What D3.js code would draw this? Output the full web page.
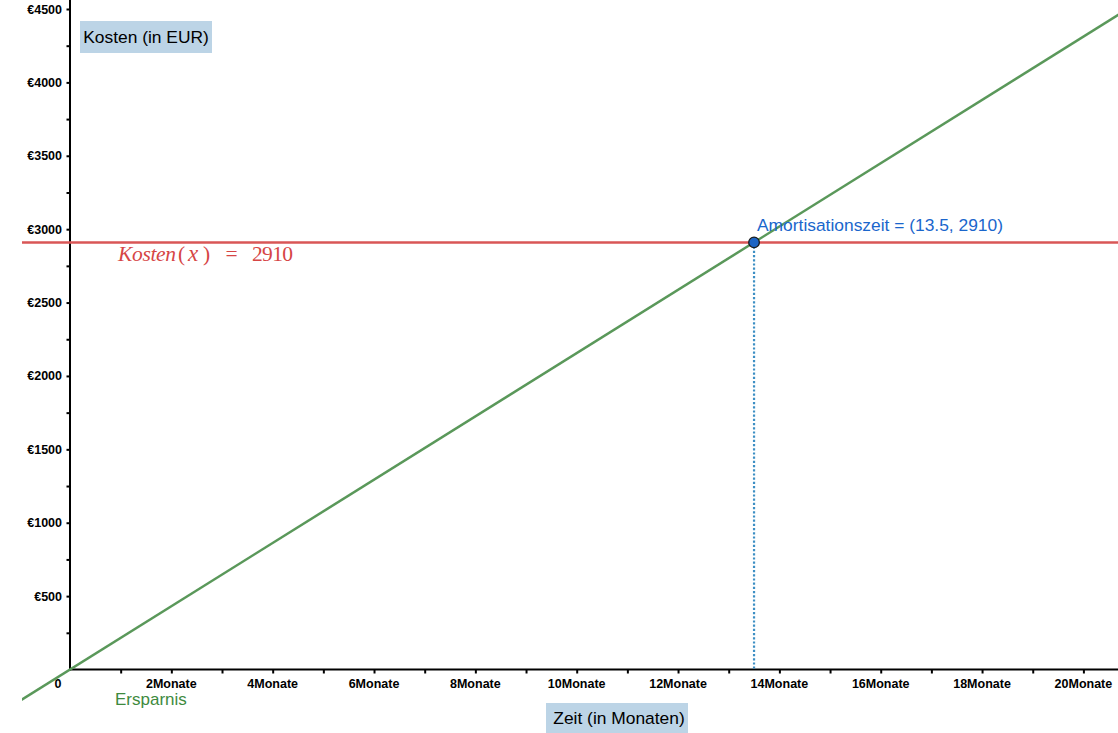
<!DOCTYPE html>
<html><head><meta charset="utf-8">
<script src="https://cdn.jsdelivr.net/npm/d3@7"></script>
<style>
html,body{margin:0;padding:0;background:#fff;}
svg{display:block;}
</style></head>
<body>
<svg id="chart" width="1118" height="733"></svg>
<script>
// ---- data ----
const xTickMonths = [2,4,6,8,10,12,14,16,18,20];
const xTickLabels = ["2Monate","4Monate","6Monate","8Monate","10Monate","12Monate","14Monate","16Monate","18Monate","20Monate"];
const yTickValues = [500,1000,1500,2000,2500,3000,3500,4000,4500];
const yTickLabels = ["€500","€1000","€1500","€2000","€2500","€3000","€3500","€4000","€4500"];
const kostenValue = 2910;
const ersparnisLine = [[-1, -216], [21, 4527]];
const amortPoint = [13.5, 2910];

// ---- scales ----
const W = 1118, H = 733;
const x = d3.scaleLinear().domain([0, 20]).range([70, 1083.4]);
const y = d3.scaleLinear().domain([0, 4500]).range([669.5, 9]);
const svg = d3.select("#chart");
const font = "'Liberation Sans', Arial, sans-serif";
const serif = "'Liberation Serif', 'Times New Roman', serif";

svg.append("defs").append("clipPath").attr("id","plot")
  .append("rect").attr("x",22).attr("y",0).attr("width",W-22).attr("height",H);

// axes
const yAxis = d3.axisLeft(y).tickValues(d3.range(250, 4501, 250)).tickSize(3.5).tickFormat("");
const gy = svg.append("g").attr("transform","translate(70,0)").call(yAxis);
gy.select(".domain").remove();
gy.selectAll(".tick line").attr("stroke","#000").attr("stroke-width",2);
svg.append("line").attr("x1",70).attr("x2",70).attr("y1",0).attr("y2",y(0)+1)
  .attr("stroke","#000").attr("stroke-width",2);

const xAxis = d3.axisBottom(x).tickValues(d3.range(1, 21, 1)).tickSize(4).tickFormat("");
const gx = svg.append("g").attr("transform",`translate(0,${y(0)})`).call(xAxis);
gx.select(".domain").remove();
gx.selectAll(".tick line").attr("stroke","#000").attr("stroke-width",2);
svg.append("line").attr("x1",69).attr("x2",W).attr("y1",y(0)).attr("y2",y(0))
  .attr("stroke","#000").attr("stroke-width",2);

// tick labels
svg.append("g").selectAll("text").data(yTickValues).join("text")
  .attr("x",62).attr("y",d=>y(d)+4.5).attr("text-anchor","end")
  .attr("font-family",font).attr("font-weight","bold").attr("font-size","12.5px")
  .text((d,i)=>yTickLabels[i]);
svg.append("g").selectAll("text").data(xTickMonths).join("text")
  .attr("x",d=>x(d)).attr("y",687.5).attr("text-anchor","middle")
  .attr("font-family",font).attr("font-weight","bold").attr("font-size","12.5px")
  .text((d,i)=>xTickLabels[i]);
svg.append("text").attr("x",58).attr("y",687.5).attr("text-anchor","middle")
  .attr("font-family",font).attr("font-weight","bold").attr("font-size","12.5px").text("0");

// axis title boxes
svg.append("rect").attr("x",80).attr("y",21).attr("width",132).attr("height",32).attr("fill","#bcd4e6");
svg.append("text").attr("x",146).attr("y",42.5).attr("text-anchor","middle")
  .attr("font-family",font).attr("font-size","17.4px").attr("fill","#000").text("Kosten (in EUR)");
svg.append("rect").attr("x",546).attr("y",703).attr("width",142).attr("height",30).attr("fill","#bcd4e6");
svg.append("text").attr("x",619).attr("y",724).attr("text-anchor","middle")
  .attr("font-family",font).attr("font-size","17.4px").attr("fill","#000").text("Zeit (in Monaten)");

const plot = svg.append("g").attr("clip-path","url(#plot)");

// Kosten line
plot.append("line").attr("x1",0).attr("x2",W).attr("y1",y(kostenValue)).attr("y2",y(kostenValue))
  .attr("stroke","#d95656").attr("stroke-width",2.5);

// Ersparnis line
plot.append("path").datum(ersparnisLine)
  .attr("d", d3.line().x(d=>x(d[0])).y(d=>y(d[1])))
  .attr("fill","none").attr("stroke","#5a985a").attr("stroke-width",2.5);

// dotted vertical
plot.append("line").attr("x1",x(amortPoint[0])).attr("x2",x(amortPoint[0]))
  .attr("y1",y(amortPoint[1])).attr("y2",y(0)-1)
  .attr("stroke","#3d8fc4").attr("stroke-width",2.2).attr("stroke-dasharray","2.2,2");

// point
plot.append("circle").attr("cx",x(amortPoint[0])).attr("cy",y(amortPoint[1])).attr("r",5.3)
  .attr("fill","#1c64c4").attr("stroke","#1a1a1a").attr("stroke-width",1.3);

// labels
svg.append("text").attr("x",757).attr("y",231)
  .attr("font-family",font).attr("font-size","17.4px").attr("fill","#1a66cc")
  .text(`Amortisationszeit = (${amortPoint[0]}, ${amortPoint[1]})`);
svg.append("text").attr("x",115).attr("y",705)
  .attr("font-family",font).attr("font-size","17px").attr("fill","#3e8a3e").text("Ersparnis");

// Kosten(x) = 2910 label (LaTeX-like)
const kc = "#d64545", ky = 261;
const kg = svg.append("g").attr("fill",kc).attr("font-family",serif).attr("font-size","21.5px");
kg.append("text").attr("x",118).attr("y",ky).attr("font-style","italic")
  .attr("textLength",58).attr("lengthAdjust","spacing").text("Kosten");
kg.append("text").attr("x",178).attr("y",ky).text("(");
kg.append("text").attr("x",188).attr("y",ky).attr("font-style","italic").attr("font-size","23px").text("x");
kg.append("text").attr("x",203).attr("y",ky).text(")");
kg.append("text").attr("x",231.5).attr("y",ky).attr("text-anchor","middle").text("=");
kg.append("text").attr("x",252).attr("y",ky).attr("textLength",41).attr("lengthAdjust","spacing").text(String(kostenValue));
</script>
</body></html>
